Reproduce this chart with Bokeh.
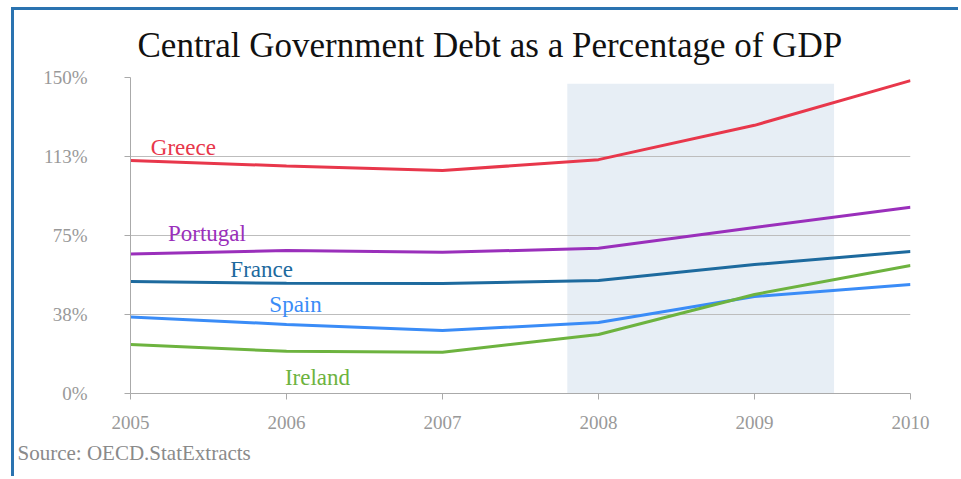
from bokeh.plotting import figure
from bokeh.models import Range1d, FixedTicker, BoxAnnotation, Title, ColumnDataSource, CustomJSTickFormatter
from bokeh.core.properties import value
from bokeh.embed import file_html
from bokeh.resources import INLINE

years = [2005, 2006, 2007, 2008, 2009, 2010]
countries = ["Greece", "Portugal", "France", "Spain", "Ireland"]
greece = [110.6, 108.0, 105.8, 111.0, 127.3, 148.5]
portugal = [66.2, 67.9, 67.0, 68.9, 78.8, 88.4]
france = [53.2, 52.3, 52.2, 53.6, 61.2, 67.4]
spain = [36.3, 32.8, 29.9, 33.7, 46.0, 51.7]
ireland = [23.3, 20.0, 19.6, 28.0, 47.0, 60.8]
series = [greece, portugal, france, spain, ireland]
colors = ["#e8374b", "#9a2fbb", "#1d6a9e", "#3a8cf7", "#6db33f"]

# label anchors (data coordinates)
label_x = [2005.13, 2005.24, 2005.64, 2005.89, 2005.99]
label_y = [116.8, 75.8, 59.0, 42.4, 7.4]

y_ticks = [0, 37.5, 75, 112.5, 150]
y_tick_labels = ["0%", "38%", "75%", "113%", "150%"]
x_ticks = years

shade_start, shade_end, shade_top = 2007.8, 2009.51, 147.0

SERIF = "'Liberation Serif', serif"

p = figure(width=947, height=469, output_backend="svg", toolbar_location=None,
           x_range=Range1d(2005, 2010), y_range=Range1d(0, 150),
           min_border_left=116, min_border_right=51, min_border_top=67, min_border_bottom=86)
p.styles = {"margin-left": "11px", "margin-top": "7px",
            "border-left": "3px solid #2a73b0", "border-top": "3px solid #2a73b0"}
p.outline_line_color = None

shade = BoxAnnotation(left=shade_start, right=shade_end, bottom=0, top=shade_top,
                      fill_color="#e7eef5", fill_alpha=1.0, line_color=None, level="image")
p.add_layout(shade)

for s, c in zip(series, colors):
    p.line(years, s, line_color=c, line_width=3)

src = ColumnDataSource(dict(x=label_x, y=label_y, t=countries, c=colors))
p.text(x="x", y="y", text="t", text_color="c", source=src,
       text_font=value(SERIF), text_font_size="23px", text_baseline="alphabetic", text_align="left")

p.xgrid.grid_line_color = None
p.ygrid.grid_line_color = "#bdbdbd"
p.ygrid.grid_line_width = 1
p.ygrid.ticker = FixedTicker(ticks=y_ticks)

p.yaxis.ticker = FixedTicker(ticks=y_ticks)
p.yaxis.formatter = CustomJSTickFormatter(args=dict(t=y_ticks, l=y_tick_labels),
                                          code="return l[t.indexOf(tick)];")
p.xaxis.ticker = FixedTicker(ticks=x_ticks)
for ax in (p.xaxis[0], p.yaxis[0]):
    ax.axis_line_color = "#aaaaaa"
    ax.major_tick_line_color = "#aaaaaa"
    ax.minor_tick_line_color = None
    ax.major_tick_in = 0
    ax.major_tick_out = 6
    ax.major_label_text_font = SERIF
    ax.major_label_text_font_size = "19px"
    ax.major_label_text_color = "#999999"
p.yaxis.major_label_standoff = 37
p.xaxis.major_label_standoff = 16

title = Title(text="Central Government Debt as a Percentage of GDP", align="left", offset=7,
              text_font=SERIF, text_font_size="35px", text_color="#111111",
              text_font_style="normal", standoff=26)
p.add_layout(title, "above")

source = Title(text="Source: OECD.StatExtracts", align="left", offset=-113,
               text_font=SERIF, text_font_size="21px", text_color="#8a8a8a",
               text_font_style="normal", standoff=15)
p.add_layout(source, "below")

open("out.html", "w").write(file_html(p, INLINE))
